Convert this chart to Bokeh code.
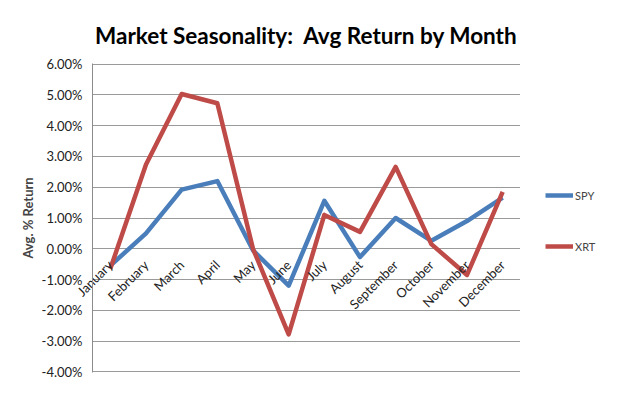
from bokeh.plotting import figure
from bokeh.layouts import row
from bokeh.models import FactorRange, Range1d, PrintfTickFormatter, FixedTicker, Legend, LegendItem
from bokeh.embed import file_html
from bokeh.resources import INLINE
import math

months = ["January", "February", "March", "April", "May", "June", "July",
          "August", "September", "October", "November", "December"]
spy = [-0.55, 0.50, 1.92, 2.20, -0.05, -1.20, 1.56, -0.27, 1.00, 0.26, 0.90, 1.66]
xrt = [-0.65, 2.74, 5.03, 4.73, 0.00, -2.78, 1.10, 0.55, 2.66, 0.15, -0.85, 1.85]
y_ticks = [-4, -3, -2, -1, 0, 1, 2, 3, 4, 5, 6]
series_names = ["SPY", "XRT"]
series_colors = ["#4a7ebb", "#be4b48"]

FONT = "Lato"
H = 392

p = figure(width=520, height=H, x_range=FactorRange(factors=months),
           y_range=Range1d(-4.02, 6.02), output_backend="svg", toolbar_location=None,
           title="Market Seasonality:\u00a0 Avg Return by Month")
p.min_border_left = 92
p.min_border_right = 0
p.min_border_top = 63
p.min_border_bottom = 20
p.outline_line_color = None
p.background_fill_color = "white"
p.border_fill_color = "white"

p.title.text_font = FONT
p.title.text_font_size = "22.5px"
p.title.text_font_style = "bold"
p.title.align = "center"
p.title.text_color = "#000000"
p.title.standoff = 29

# y axis
yax = p.yaxis[0]
yax.ticker = FixedTicker(ticks=y_ticks)
yax.formatter = PrintfTickFormatter(format="%.2f%%")
yax.major_label_text_font = FONT
yax.major_label_text_font_size = "13px"
yax.major_label_text_color = "#222222"
yax.major_tick_line_color = None
yax.minor_tick_line_color = None
yax.major_tick_out = 0
yax.major_tick_in = 0
yax.minor_tick_out = 0
yax.axis_line_color = "#8c8c8c"
yax.axis_line_width = 1
yax.major_label_standoff = 10
yax.axis_label = "Avg. % Return"
yax.axis_label_text_font = FONT
yax.axis_label_text_font_size = "13px"
yax.axis_label_text_font_style = "bold"
yax.axis_label_standoff = 3

# x axis: labels lifted up to sit just under the 0% line
xax = p.xaxis[0]
xax.major_label_orientation = math.pi / 4
xax.major_label_text_font = FONT
xax.major_label_text_font_size = "13px"
xax.major_label_text_color = "#222222"
xax.axis_line_color = None
xax.major_tick_line_color = None
xax.minor_tick_line_color = None
xax.major_tick_out = 0
xax.major_tick_in = 0
xax.major_label_standoff = -110

p.xgrid.grid_line_color = None
p.ygrid.ticker = FixedTicker(ticks=y_ticks)
p.ygrid.grid_line_color = "#9a9a9a"
p.ygrid.grid_line_width = 1

p.line(months, spy, line_color=series_colors[0], line_width=4.5, line_join="round")
p.line(months, xrt, line_color=series_colors[1], line_width=4.5, line_join="round")

# legend panel to the right of the plot area
lg = figure(width=106, height=H, output_backend="svg", toolbar_location=None,
            x_range=FactorRange(factors=months), y_range=Range1d(-4, 6),
            x_axis_location=None, y_axis_location=None, min_border=0)
lg.outline_line_color = None
lg.xgrid.grid_line_color = None
lg.ygrid.grid_line_color = None
items = []
for name, col, vals in zip(series_names, series_colors, [spy, xrt]):
    r = lg.line(months, vals, line_color=col, line_width=4.5, visible=False)
    items.append(LegendItem(label=name, renderers=[r]))
legend = Legend(items=items, location=(25, 116), click_policy="none")
legend.border_line_color = None
legend.background_fill_alpha = 0
legend.margin = 0
legend.padding = 0
legend.glyph_width = 28
legend.glyph_height = 20
legend.spacing = 31
legend.label_standoff = 2
legend.label_text_font = FONT
legend.label_text_font_size = "11px"
lg.add_layout(legend)

open("out.html", "w").write(file_html(row(p, lg), INLINE))
